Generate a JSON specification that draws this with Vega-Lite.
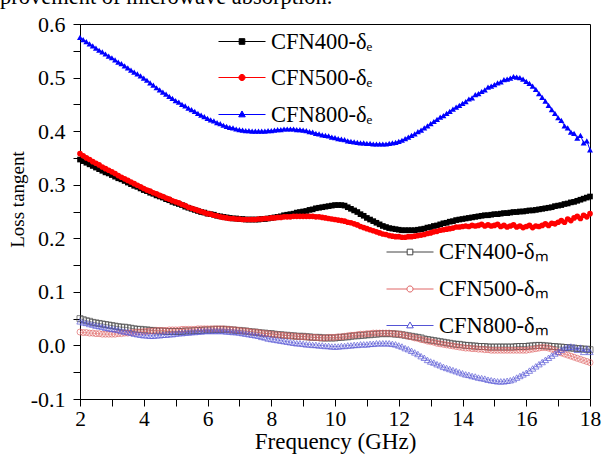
{
"$schema": "https://vega.github.io/schema/vega-lite/v6.json",
"width": 510, "height": 375,
"autosize": "none",
"padding": {"left": 80, "top": 24, "right": 12, "bottom": 60},
"background": "white",
"title": {"text": "provement of microwave absorption.", "anchor": "start", "frame": "group", "font": "Liberation Serif", "fontSize": 22.5, "fontWeight": "normal", "color": "black", "baseline": "alphabetic", "offset": -13, "dx": -80},
"config": {"font": "Liberation Serif", "view": {"stroke": "black", "strokeWidth": 1},
  "legend": {"orient": "none", "title": null, "padding": 0, "labelFont": "Liberation Serif", "labelFontSize": 22.5, "labelColor": "black", "labelOffset": 5, "symbolSize": 2209, "symbolStrokeWidth": 1, "symbolOpacity": 1}},
"data": {"values": [
{"f":2.0,"a":0.347,"b":0.358,"c":0.575,"d":0.050,"e":0.025,"g":0.045},
{"f":2.1,"a":0.344,"b":0.354,"c":0.571,"d":0.048,"e":0.024,"g":0.043},
{"f":2.2,"a":0.341,"b":0.350,"c":0.567,"d":0.046,"e":0.024,"g":0.042},
{"f":2.3,"a":0.338,"b":0.347,"c":0.563,"d":0.045,"e":0.023,"g":0.040},
{"f":2.4,"a":0.335,"b":0.343,"c":0.559,"d":0.043,"e":0.023,"g":0.039},
{"f":2.5,"a":0.332,"b":0.340,"c":0.555,"d":0.042,"e":0.022,"g":0.037},
{"f":2.6,"a":0.329,"b":0.337,"c":0.551,"d":0.041,"e":0.022,"g":0.036},
{"f":2.7,"a":0.326,"b":0.333,"c":0.548,"d":0.040,"e":0.021,"g":0.035},
{"f":2.8,"a":0.323,"b":0.330,"c":0.544,"d":0.039,"e":0.021,"g":0.033},
{"f":2.9,"a":0.321,"b":0.327,"c":0.540,"d":0.038,"e":0.021,"g":0.032},
{"f":3.0,"a":0.318,"b":0.324,"c":0.537,"d":0.037,"e":0.021,"g":0.031},
{"f":3.1,"a":0.315,"b":0.321,"c":0.533,"d":0.036,"e":0.021,"g":0.030},
{"f":3.2,"a":0.312,"b":0.317,"c":0.529,"d":0.035,"e":0.022,"g":0.029},
{"f":3.3,"a":0.310,"b":0.314,"c":0.526,"d":0.034,"e":0.022,"g":0.027},
{"f":3.4,"a":0.307,"b":0.311,"c":0.522,"d":0.034,"e":0.023,"g":0.026},
{"f":3.5,"a":0.304,"b":0.308,"c":0.518,"d":0.033,"e":0.023,"g":0.025},
{"f":3.6,"a":0.301,"b":0.305,"c":0.514,"d":0.032,"e":0.024,"g":0.024},
{"f":3.7,"a":0.298,"b":0.302,"c":0.510,"d":0.031,"e":0.024,"g":0.022},
{"f":3.8,"a":0.296,"b":0.299,"c":0.507,"d":0.030,"e":0.025,"g":0.021},
{"f":3.9,"a":0.293,"b":0.296,"c":0.503,"d":0.030,"e":0.025,"g":0.020},
{"f":4.0,"a":0.290,"b":0.293,"c":0.499,"d":0.029,"e":0.026,"g":0.019},
{"f":4.1,"a":0.288,"b":0.290,"c":0.495,"d":0.029,"e":0.026,"g":0.019},
{"f":4.2,"a":0.285,"b":0.288,"c":0.490,"d":0.028,"e":0.027,"g":0.018},
{"f":4.3,"a":0.283,"b":0.285,"c":0.486,"d":0.028,"e":0.027,"g":0.018},
{"f":4.4,"a":0.280,"b":0.283,"c":0.481,"d":0.027,"e":0.028,"g":0.019},
{"f":4.5,"a":0.278,"b":0.280,"c":0.477,"d":0.027,"e":0.028,"g":0.019},
{"f":4.6,"a":0.276,"b":0.278,"c":0.473,"d":0.027,"e":0.028,"g":0.020},
{"f":4.7,"a":0.273,"b":0.275,"c":0.469,"d":0.026,"e":0.028,"g":0.020},
{"f":4.8,"a":0.271,"b":0.273,"c":0.465,"d":0.026,"e":0.029,"g":0.021},
{"f":4.9,"a":0.268,"b":0.270,"c":0.461,"d":0.026,"e":0.029,"g":0.021},
{"f":5.0,"a":0.266,"b":0.268,"c":0.457,"d":0.026,"e":0.029,"g":0.022},
{"f":5.1,"a":0.264,"b":0.266,"c":0.454,"d":0.026,"e":0.029,"g":0.023},
{"f":5.2,"a":0.262,"b":0.263,"c":0.450,"d":0.026,"e":0.030,"g":0.023},
{"f":5.3,"a":0.259,"b":0.261,"c":0.447,"d":0.027,"e":0.030,"g":0.024},
{"f":5.4,"a":0.257,"b":0.258,"c":0.443,"d":0.027,"e":0.030,"g":0.024},
{"f":5.5,"a":0.255,"b":0.256,"c":0.440,"d":0.027,"e":0.030,"g":0.025},
{"f":5.6,"a":0.253,"b":0.254,"c":0.437,"d":0.028,"e":0.030,"g":0.025},
{"f":5.7,"a":0.251,"b":0.252,"c":0.433,"d":0.028,"e":0.031,"g":0.026},
{"f":5.8,"a":0.249,"b":0.250,"c":0.430,"d":0.028,"e":0.031,"g":0.026},
{"f":5.9,"a":0.248,"b":0.248,"c":0.427,"d":0.029,"e":0.031,"g":0.027},
{"f":6.0,"a":0.246,"b":0.246,"c":0.424,"d":0.029,"e":0.031,"g":0.027},
{"f":6.1,"a":0.245,"b":0.245,"c":0.421,"d":0.029,"e":0.031,"g":0.027},
{"f":6.2,"a":0.244,"b":0.243,"c":0.419,"d":0.030,"e":0.031,"g":0.027},
{"f":6.3,"a":0.242,"b":0.242,"c":0.416,"d":0.030,"e":0.031,"g":0.027},
{"f":6.4,"a":0.241,"b":0.240,"c":0.414,"d":0.030,"e":0.031,"g":0.027},
{"f":6.5,"a":0.240,"b":0.239,"c":0.411,"d":0.030,"e":0.031,"g":0.027},
{"f":6.6,"a":0.239,"b":0.238,"c":0.409,"d":0.030,"e":0.030,"g":0.026},
{"f":6.7,"a":0.238,"b":0.237,"c":0.407,"d":0.029,"e":0.030,"g":0.026},
{"f":6.8,"a":0.237,"b":0.237,"c":0.406,"d":0.029,"e":0.029,"g":0.025},
{"f":6.9,"a":0.237,"b":0.236,"c":0.404,"d":0.028,"e":0.029,"g":0.025},
{"f":7.0,"a":0.236,"b":0.236,"c":0.403,"d":0.028,"e":0.028,"g":0.024},
{"f":7.1,"a":0.236,"b":0.235,"c":0.402,"d":0.027,"e":0.027,"g":0.023},
{"f":7.2,"a":0.235,"b":0.235,"c":0.401,"d":0.027,"e":0.027,"g":0.022},
{"f":7.3,"a":0.235,"b":0.235,"c":0.401,"d":0.026,"e":0.026,"g":0.021},
{"f":7.4,"a":0.235,"b":0.235,"c":0.400,"d":0.025,"e":0.025,"g":0.020},
{"f":7.5,"a":0.235,"b":0.235,"c":0.400,"d":0.025,"e":0.025,"g":0.019},
{"f":7.6,"a":0.235,"b":0.236,"c":0.400,"d":0.024,"e":0.024,"g":0.018},
{"f":7.7,"a":0.236,"b":0.236,"c":0.400,"d":0.023,"e":0.023,"g":0.016},
{"f":7.8,"a":0.236,"b":0.237,"c":0.400,"d":0.023,"e":0.022,"g":0.015},
{"f":7.9,"a":0.237,"b":0.237,"c":0.401,"d":0.022,"e":0.022,"g":0.013},
{"f":8.0,"a":0.238,"b":0.238,"c":0.401,"d":0.022,"e":0.021,"g":0.012},
{"f":8.1,"a":0.239,"b":0.238,"c":0.402,"d":0.021,"e":0.020,"g":0.011},
{"f":8.2,"a":0.240,"b":0.239,"c":0.403,"d":0.020,"e":0.020,"g":0.010},
{"f":8.3,"a":0.241,"b":0.239,"c":0.403,"d":0.020,"e":0.019,"g":0.009},
{"f":8.4,"a":0.243,"b":0.240,"c":0.404,"d":0.019,"e":0.019,"g":0.008},
{"f":8.5,"a":0.244,"b":0.240,"c":0.404,"d":0.019,"e":0.018,"g":0.007},
{"f":8.6,"a":0.245,"b":0.240,"c":0.404,"d":0.018,"e":0.018,"g":0.006},
{"f":8.7,"a":0.246,"b":0.241,"c":0.404,"d":0.018,"e":0.017,"g":0.005},
{"f":8.8,"a":0.248,"b":0.241,"c":0.403,"d":0.017,"e":0.017,"g":0.004},
{"f":8.9,"a":0.249,"b":0.241,"c":0.403,"d":0.017,"e":0.016,"g":0.004},
{"f":9.0,"a":0.250,"b":0.241,"c":0.402,"d":0.017,"e":0.016,"g":0.003},
{"f":9.1,"a":0.251,"b":0.241,"c":0.401,"d":0.016,"e":0.016,"g":0.002},
{"f":9.2,"a":0.253,"b":0.241,"c":0.399,"d":0.016,"e":0.015,"g":0.002},
{"f":9.3,"a":0.254,"b":0.241,"c":0.398,"d":0.015,"e":0.015,"g":0.001},
{"f":9.4,"a":0.256,"b":0.240,"c":0.396,"d":0.015,"e":0.015,"g":0.001},
{"f":9.5,"a":0.257,"b":0.240,"c":0.395,"d":0.015,"e":0.014,"g":0.000},
{"f":9.6,"a":0.258,"b":0.239,"c":0.393,"d":0.014,"e":0.014,"g":0.000},
{"f":9.7,"a":0.259,"b":0.238,"c":0.392,"d":0.014,"e":0.014,"g":-0.001},
{"f":9.8,"a":0.260,"b":0.237,"c":0.391,"d":0.014,"e":0.015,"g":-0.001},
{"f":9.9,"a":0.261,"b":0.236,"c":0.389,"d":0.014,"e":0.015,"g":-0.002},
{"f":10.0,"a":0.262,"b":0.235,"c":0.388,"d":0.014,"e":0.015,"g":-0.002},
{"f":10.1,"a":0.262,"b":0.234,"c":0.386,"d":0.015,"e":0.016,"g":-0.002},
{"f":10.2,"a":0.262,"b":0.233,"c":0.385,"d":0.015,"e":0.016,"g":-0.001},
{"f":10.3,"a":0.261,"b":0.232,"c":0.384,"d":0.016,"e":0.017,"g":-0.001},
{"f":10.4,"a":0.258,"b":0.230,"c":0.382,"d":0.016,"e":0.018,"g":0.000},
{"f":10.5,"a":0.255,"b":0.229,"c":0.381,"d":0.017,"e":0.019,"g":0.000},
{"f":10.6,"a":0.252,"b":0.227,"c":0.380,"d":0.018,"e":0.019,"g":0.001},
{"f":10.7,"a":0.249,"b":0.225,"c":0.379,"d":0.018,"e":0.020,"g":0.001},
{"f":10.8,"a":0.245,"b":0.222,"c":0.378,"d":0.019,"e":0.021,"g":0.002},
{"f":10.9,"a":0.242,"b":0.220,"c":0.378,"d":0.019,"e":0.021,"g":0.002},
{"f":11.0,"a":0.238,"b":0.218,"c":0.377,"d":0.020,"e":0.022,"g":0.002},
{"f":11.1,"a":0.235,"b":0.216,"c":0.377,"d":0.020,"e":0.022,"g":0.003},
{"f":11.2,"a":0.232,"b":0.214,"c":0.376,"d":0.021,"e":0.023,"g":0.003},
{"f":11.3,"a":0.229,"b":0.212,"c":0.376,"d":0.021,"e":0.023,"g":0.004},
{"f":11.4,"a":0.226,"b":0.210,"c":0.376,"d":0.022,"e":0.023,"g":0.004},
{"f":11.5,"a":0.223,"b":0.208,"c":0.376,"d":0.022,"e":0.023,"g":0.004},
{"f":11.6,"a":0.221,"b":0.207,"c":0.376,"d":0.022,"e":0.023,"g":0.004},
{"f":11.7,"a":0.219,"b":0.205,"c":0.377,"d":0.022,"e":0.023,"g":0.004},
{"f":11.8,"a":0.218,"b":0.204,"c":0.378,"d":0.022,"e":0.022,"g":0.003},
{"f":11.9,"a":0.217,"b":0.203,"c":0.379,"d":0.021,"e":0.022,"g":0.002},
{"f":12.0,"a":0.216,"b":0.203,"c":0.381,"d":0.021,"e":0.021,"g":0.000},
{"f":12.1,"a":0.215,"b":0.202,"c":0.383,"d":0.020,"e":0.020,"g":-0.002},
{"f":12.2,"a":0.215,"b":0.202,"c":0.386,"d":0.019,"e":0.019,"g":-0.005},
{"f":12.3,"a":0.215,"b":0.203,"c":0.389,"d":0.018,"e":0.017,"g":-0.007},
{"f":12.4,"a":0.215,"b":0.203,"c":0.392,"d":0.017,"e":0.016,"g":-0.010},
{"f":12.5,"a":0.215,"b":0.204,"c":0.395,"d":0.016,"e":0.014,"g":-0.013},
{"f":12.6,"a":0.216,"b":0.205,"c":0.399,"d":0.015,"e":0.013,"g":-0.016},
{"f":12.7,"a":0.217,"b":0.206,"c":0.402,"d":0.014,"e":0.011,"g":-0.020},
{"f":12.8,"a":0.218,"b":0.207,"c":0.406,"d":0.012,"e":0.010,"g":-0.023},
{"f":12.9,"a":0.220,"b":0.209,"c":0.410,"d":0.011,"e":0.008,"g":-0.027},
{"f":13.0,"a":0.221,"b":0.210,"c":0.414,"d":0.010,"e":0.007,"g":-0.030},
{"f":13.1,"a":0.223,"b":0.212,"c":0.418,"d":0.009,"e":0.006,"g":-0.032},
{"f":13.2,"a":0.224,"b":0.213,"c":0.422,"d":0.008,"e":0.004,"g":-0.035},
{"f":13.3,"a":0.226,"b":0.215,"c":0.426,"d":0.007,"e":0.003,"g":-0.037},
{"f":13.4,"a":0.228,"b":0.216,"c":0.429,"d":0.006,"e":0.002,"g":-0.040},
{"f":13.5,"a":0.229,"b":0.217,"c":0.433,"d":0.005,"e":0.001,"g":-0.042},
{"f":13.6,"a":0.231,"b":0.218,"c":0.437,"d":0.004,"e":0.000,"g":-0.044},
{"f":13.7,"a":0.232,"b":0.219,"c":0.441,"d":0.003,"e":-0.001,"g":-0.046},
{"f":13.8,"a":0.234,"b":0.221,"c":0.445,"d":0.002,"e":-0.002,"g":-0.048},
{"f":13.9,"a":0.235,"b":0.221,"c":0.448,"d":0.002,"e":-0.003,"g":-0.050},
{"f":14.0,"a":0.236,"b":0.222,"c":0.452,"d":0.001,"e":-0.004,"g":-0.052},
{"f":14.1,"a":0.237,"b":0.223,"c":0.455,"d":0.000,"e":-0.005,"g":-0.054},
{"f":14.2,"a":0.238,"b":0.222,"c":0.460,"d":0.000,"e":-0.005,"g":-0.055},
{"f":14.3,"a":0.239,"b":0.224,"c":0.462,"d":-0.001,"e":-0.006,"g":-0.057},
{"f":14.4,"a":0.240,"b":0.223,"c":0.468,"d":-0.001,"e":-0.006,"g":-0.058},
{"f":14.5,"a":0.241,"b":0.224,"c":0.470,"d":-0.002,"e":-0.007,"g":-0.060},
{"f":14.6,"a":0.242,"b":0.226,"c":0.474,"d":-0.002,"e":-0.007,"g":-0.061},
{"f":14.7,"a":0.243,"b":0.223,"c":0.477,"d":-0.002,"e":-0.008,"g":-0.062},
{"f":14.8,"a":0.243,"b":0.225,"c":0.482,"d":-0.003,"e":-0.008,"g":-0.064},
{"f":14.9,"a":0.244,"b":0.223,"c":0.484,"d":-0.003,"e":-0.009,"g":-0.065},
{"f":15.0,"a":0.245,"b":0.224,"c":0.487,"d":-0.003,"e":-0.009,"g":-0.066},
{"f":15.1,"a":0.245,"b":0.226,"c":0.490,"d":-0.003,"e":-0.009,"g":-0.067},
{"f":15.2,"a":0.246,"b":0.222,"c":0.492,"d":-0.003,"e":-0.009,"g":-0.067},
{"f":15.3,"a":0.247,"b":0.224,"c":0.496,"d":-0.003,"e":-0.009,"g":-0.067},
{"f":15.4,"a":0.247,"b":0.221,"c":0.497,"d":-0.003,"e":-0.009,"g":-0.066},
{"f":15.5,"a":0.248,"b":0.223,"c":0.499,"d":-0.003,"e":-0.009,"g":-0.065},
{"f":15.6,"a":0.249,"b":0.225,"c":0.502,"d":-0.003,"e":-0.009,"g":-0.063},
{"f":15.7,"a":0.249,"b":0.221,"c":0.501,"d":-0.002,"e":-0.009,"g":-0.060},
{"f":15.8,"a":0.250,"b":0.223,"c":0.500,"d":-0.002,"e":-0.009,"g":-0.057},
{"f":15.9,"a":0.250,"b":0.220,"c":0.497,"d":-0.002,"e":-0.009,"g":-0.054},
{"f":16.0,"a":0.251,"b":0.222,"c":0.493,"d":-0.002,"e":-0.009,"g":-0.051},
{"f":16.1,"a":0.252,"b":0.224,"c":0.489,"d":-0.001,"e":-0.008,"g":-0.047},
{"f":16.2,"a":0.252,"b":0.220,"c":0.484,"d":-0.001,"e":-0.007,"g":-0.043},
{"f":16.3,"a":0.253,"b":0.223,"c":0.478,"d":0.000,"e":-0.006,"g":-0.039},
{"f":16.4,"a":0.254,"b":0.222,"c":0.470,"d":0.000,"e":-0.005,"g":-0.035},
{"f":16.5,"a":0.255,"b":0.224,"c":0.463,"d":0.000,"e":-0.004,"g":-0.031},
{"f":16.6,"a":0.256,"b":0.227,"c":0.456,"d":-0.001,"e":-0.004,"g":-0.027},
{"f":16.7,"a":0.257,"b":0.224,"c":0.448,"d":-0.001,"e":-0.005,"g":-0.023},
{"f":16.8,"a":0.258,"b":0.228,"c":0.440,"d":-0.002,"e":-0.007,"g":-0.019},
{"f":16.9,"a":0.260,"b":0.227,"c":0.433,"d":-0.002,"e":-0.009,"g":-0.015},
{"f":17.0,"a":0.261,"b":0.230,"c":0.425,"d":-0.003,"e":-0.012,"g":-0.012},
{"f":17.1,"a":0.262,"b":0.233,"c":0.420,"d":-0.003,"e":-0.014,"g":-0.008},
{"f":17.2,"a":0.264,"b":0.230,"c":0.410,"d":-0.004,"e":-0.016,"g":-0.005},
{"f":17.3,"a":0.265,"b":0.236,"c":0.406,"d":-0.004,"e":-0.018,"g":-0.003},
{"f":17.4,"a":0.267,"b":0.233,"c":0.398,"d":-0.005,"e":-0.020,"g":-0.002},
{"f":17.5,"a":0.268,"b":0.238,"c":0.396,"d":-0.005,"e":-0.022,"g":-0.003},
{"f":17.6,"a":0.270,"b":0.241,"c":0.387,"d":-0.006,"e":-0.024,"g":-0.008},
{"f":17.7,"a":0.272,"b":0.237,"c":0.392,"d":-0.006,"e":-0.026,"g":-0.004},
{"f":17.8,"a":0.274,"b":0.243,"c":0.378,"d":-0.007,"e":-0.028,"g":-0.012},
{"f":17.9,"a":0.276,"b":0.240,"c":0.382,"d":-0.007,"e":-0.030,"g":-0.006},
{"f":18.0,"a":0.278,"b":0.246,"c":0.365,"d":-0.008,"e":-0.032,"g":-0.012}
]},
"transform": [{"fold": ["a","b","c","d","e","g"], "as": ["k","v"]}],
"encoding": {
  "x": {"field": "f", "type": "quantitative", "scale": {"domain": [2, 18], "nice": false, "zero": false},
    "axis": {"values": [2,3,4,5,6,7,8,9,10,11,12,13,14,15,16,17,18], "grid": false, "domainColor": "black", "tickColor": "black", "tickSize": 7, "labelOverlap": false, "labelFlush": false,
      "labelExpr": "datum.value % 2 == 0 ? datum.label : ''", "labelFont": "Liberation Serif", "labelFontSize": 21.5, "labelColor": "black", "labelPadding": 2,
      "title": "Frequency (GHz)", "titleFont": "Liberation Serif", "titleFontSize": 23, "titleFontWeight": "normal", "titleColor": "black", "titlePadding": 1,
      "encode": {"ticks": {"update": {"y2": {"signal": "datum.value % 2 == 0 ? 7 : 4"}}}}}},
  "y": {"field": "v", "type": "quantitative", "scale": {"domain": [-0.1, 0.6], "nice": false, "zero": false},
    "axis": {"values": [-0.1,-0.05,0,0.05,0.1,0.15,0.2,0.25,0.3,0.35,0.4,0.45,0.5,0.55,0.6], "grid": false, "domainColor": "black", "tickColor": "black", "tickSize": 7, "labelOverlap": false, "labelFlush": false,
      "labelExpr": "abs(round(datum.value*20)) % 2 == 0 ? replace(format(datum.value, '.1f'), '\u2212', '-') : ''", "labelFont": "Liberation Serif", "labelFontSize": 22, "labelColor": "black", "labelPadding": 8,
      "title": "Loss tangent", "titleFont": "Liberation Serif", "titleFontSize": 19, "titleFontWeight": "normal", "titleColor": "black", "titleX": -57, "titleY": 175, "titleBaseline": "alphabetic", "titleAlign": "center", "titleAngle": -90,
      "encode": {"ticks": {"update": {"x2": {"signal": "abs(round(datum.value*20)) % 2 == 0 ? -7 : -4"}}}}}}
},
"layer": [
  {"transform": [{"filter": {"field": "k", "equal": "a"}}],
   "layer": [
     {"mark": {"type": "line", "color": "#000000", "strokeWidth": 1}},
     {"mark": {"type": "point", "shape": "square", "filled": true, "size": 32, "opacity": 1, "strokeWidth": 1},
      "encoding": {"color": {"field": "k", "type": "nominal", "scale": {"domain": ["a"], "range": ["#000000"]},
        "legend": {"legendX": 138, "legendY": -6.5, "symbolType": "M-1,0H1M-0.12,-0.12H0.12V0.12H-0.12Z", "symbolStrokeColor": "#000000", "symbolFillColor": "#000000", "labelExpr": "'CFN400-δₑ'"}}}}
   ]},
  {"transform": [{"filter": {"field": "k", "equal": "b"}}],
   "layer": [
     {"mark": {"type": "line", "color": "#ff0000", "strokeWidth": 1}},
     {"mark": {"type": "point", "shape": "circle", "filled": true, "size": 32, "opacity": 1, "strokeWidth": 1},
      "encoding": {"color": {"field": "k", "type": "nominal", "scale": {"domain": ["b"], "range": ["#ff0000"]},
        "legend": {"legendX": 138, "legendY": 29.5, "symbolType": "M-1,0H1M0.13,0A0.13,0.13,0,1,1,-0.13,0A0.13,0.13,0,1,1,0.13,0Z", "symbolStrokeColor": "#ff0000", "symbolFillColor": "#ff0000", "labelExpr": "'CFN500-δₑ'"}}}}
   ]},
  {"transform": [{"filter": {"field": "k", "equal": "c"}}],
   "layer": [
     {"mark": {"type": "line", "color": "#0000ff", "strokeWidth": 1}},
     {"mark": {"type": "point", "shape": "triangle-up", "filled": true, "size": 36, "opacity": 1, "strokeWidth": 1},
      "encoding": {"color": {"field": "k", "type": "nominal", "scale": {"domain": ["c"], "range": ["#0000ff"]},
        "legend": {"legendX": 138, "legendY": 66.5, "symbolType": "M-1,0H1M0,-0.15L0.14,0.1H-0.14Z", "symbolStrokeColor": "#0000ff", "symbolFillColor": "#0000ff", "labelExpr": "'CFN800-δₑ'"}}}}
   ]},
  {"transform": [{"filter": {"field": "k", "equal": "d"}}],
   "layer": [
     {"mark": {"type": "line", "color": "#444444", "strokeWidth": 0.8, "opacity": 0.7}},
     {"mark": {"type": "point", "shape": "square", "filled": false, "size": 36, "opacity": 0.85, "strokeWidth": 0.8},
      "encoding": {"color": {"field": "k", "type": "nominal", "scale": {"domain": ["d"], "range": ["#444444"]},
        "legend": {"legendX": 306, "legendY": 204, "symbolType": "M-1,0H-0.12M0.12,0H1M-0.12,-0.12H0.12V0.12H-0.12Z", "symbolStrokeColor": "#444444", "symbolFillColor": "white", "labelExpr": "'CFN400-δₘ'"}}}}
   ]},
  {"transform": [{"filter": {"field": "k", "equal": "e"}}],
   "layer": [
     {"mark": {"type": "line", "color": "#e06666", "strokeWidth": 0.8, "opacity": 0.7}},
     {"mark": {"type": "point", "shape": "circle", "filled": false, "size": 36, "opacity": 0.85, "strokeWidth": 0.8},
      "encoding": {"color": {"field": "k", "type": "nominal", "scale": {"domain": ["e"], "range": ["#e06666"]},
        "legend": {"legendX": 306, "legendY": 241, "symbolType": "M-1,0H-0.13M0.13,0H1M0.13,0A0.13,0.13,0,1,1,-0.13,0A0.13,0.13,0,1,1,0.13,0Z", "symbolStrokeColor": "#e06666", "symbolFillColor": "white", "labelExpr": "'CFN500-δₘ'"}}}}
   ]},
  {"transform": [{"filter": {"field": "k", "equal": "g"}}],
   "layer": [
     {"mark": {"type": "line", "color": "#5555d5", "strokeWidth": 0.8, "opacity": 0.7}},
     {"mark": {"type": "point", "shape": "triangle-up", "filled": false, "size": 40, "opacity": 0.85, "strokeWidth": 0.8},
      "encoding": {"color": {"field": "k", "type": "nominal", "scale": {"domain": ["g"], "range": ["#5555d5"]},
        "legend": {"legendX": 306, "legendY": 277.5, "symbolType": "M-1,0H-0.085M0.085,0H1M0,-0.15L0.14,0.1H-0.14Z", "symbolStrokeColor": "#5555d5", "symbolFillColor": "white", "labelExpr": "'CFN800-δₘ'"}}}}
   ]}
],
"resolve": {"scale": {"color": "independent"}}
}
